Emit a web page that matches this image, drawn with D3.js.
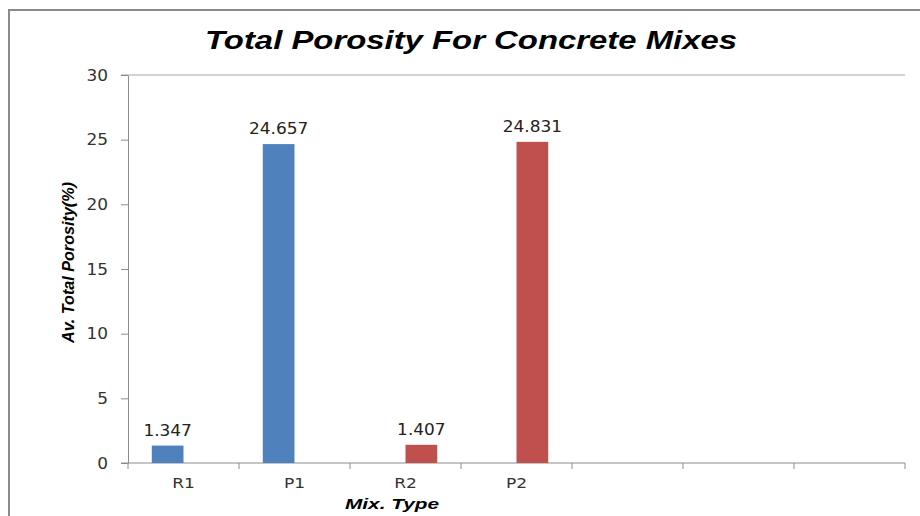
<!DOCTYPE html>
<html>
<head>
<meta charset="utf-8">
<script src="https://cdn.jsdelivr.net/npm/d3@7/dist/d3.min.js"></script>
<style>
  html, body { margin: 0; padding: 0; background: #fff; }
  svg { display: block; }
</style>
</head>
<body>
<svg id="chart" width="920" height="516"></svg>
<script>
// Mix types along the x axis (the last three slots are unused)
const categories = ["R1", "P1", "R2", "P2", "", "", ""];
// Average total porosity (%) per series; null = no bar in that slot
const seriesReference = [1.347, 24.657, null, null, null, null, null];
const seriesPorous    = [null, null, 1.407, 24.831, null, null, null];
const yTicks = [0, 5, 10, 15, 20, 25, 30];

const series = [
  { values: seriesReference, color: "#4F81BD" },
  { values: seriesPorous,    color: "#C0504D" }
];

const svg = d3.select("#chart");
const plot = { left: 128, right: 905, top: 75, bottom: 463 };

const numFont = "DejaVu Sans, Verdana, sans-serif";
const titleFont = "Liberation Sans, Arial, sans-serif";
const numScale = 1.13;

// chart frame (only top and left edges fall inside the view)
svg.append("path")
  .attr("d", "M9,516 V10 H920")
  .attr("fill", "none")
  .attr("stroke", "#8a8a8a")
  .attr("stroke-width", 2);

// title
svg.append("text")
  .attr("x", 471).attr("y", 48.5)
  .attr("text-anchor", "middle")
  .attr("font-family", titleFont)
  .attr("font-weight", "bold")
  .attr("font-style", "italic")
  .attr("font-size", 26)
  .attr("textLength", 532)
  .attr("lengthAdjust", "spacingAndGlyphs")
  .attr("fill", "#000")
  .text("Total Porosity For Concrete Mixes");

const x = d3.scaleBand()
  .domain(d3.range(categories.length))
  .range([plot.left, plot.right])
  .paddingInner(0).paddingOuter(0);

const y = d3.scaleLinear()
  .domain([0, 30])
  .range([plot.bottom, plot.top]);

// clustered bars: gap width 150% of a bar
const barW = x.bandwidth() / (series.length + 1.5);

// top gridline
svg.append("line")
  .attr("x1", plot.left - 7).attr("x2", plot.right)
  .attr("y1", y(30)).attr("y2", y(30))
  .attr("stroke", "#c4c4c4").attr("stroke-width", 1.5);

// y axis
const yAxis = svg.append("g")
  .attr("transform", `translate(${plot.left},0)`)
  .call(d3.axisLeft(y).tickValues(yTicks).tickSize(7).tickSizeOuter(0).tickPadding(13));
yAxis.select(".domain").attr("stroke", "#8c8c8c");
yAxis.selectAll(".tick line").attr("stroke", "#8c8c8c");
yAxis.selectAll(".tick text")
  .attr("font-family", numFont)
  .attr("font-size", 15)
  .attr("fill", "#333")
  .attr("dy", null)
  .attr("dominant-baseline", "central")
  .attr("transform", function () {
    const tx = +d3.select(this).attr("x");
    d3.select(this).attr("x", 0);
    return `translate(${tx},0) scale(${numScale},1)`;
  });

// x axis with ticks on category boundaries
const xAxisG = svg.append("g").attr("transform", `translate(0,${plot.bottom})`);
xAxisG.append("line")
  .attr("x1", plot.left - 7).attr("x2", plot.right)
  .attr("y1", 0).attr("y2", 0)
  .attr("stroke", "#8c8c8c");
const boundaries = d3.range(categories.length + 1).map(i =>
  i < categories.length ? x(i) : x(categories.length - 1) + x.bandwidth());
xAxisG.selectAll("line.tick")
  .data(boundaries)
  .join("line")
  .attr("class", "tick")
  .attr("x1", d => d).attr("x2", d => d)
  .attr("y1", 0).attr("y2", 6)
  .attr("stroke", "#8c8c8c");
xAxisG.selectAll("text.cat")
  .data(categories)
  .join("text")
  .attr("class", "cat")
  .attr("text-anchor", "middle")
  .attr("font-family", numFont)
  .attr("font-size", 14)
  .attr("fill", "#333")
  .attr("transform", (d, i) => `translate(${x(i) + x.bandwidth() / 2},24.5) scale(1.22,1)`)
  .text(d => d);

// bars and value labels
series.forEach((s, si) => {
  const pts = s.values
    .map((v, i) => ({ v, i }))
    .filter(d => d.v != null);
  const bx = d => x(d.i) + x.bandwidth() / 2 - barW * series.length / 2 + si * barW;

  svg.append("g").selectAll("rect")
    .data(pts)
    .join("rect")
    .attr("x", bx)
    .attr("y", d => y(d.v))
    .attr("width", barW)
    .attr("height", d => y(0) - y(d.v))
    .attr("fill", s.color);

  svg.append("g").selectAll("text")
    .data(pts)
    .join("text")
    .attr("text-anchor", "middle")
    .attr("font-family", numFont)
    .attr("font-size", 15)
    .attr("fill", "#222")
    .attr("transform", d => `translate(${bx(d) + barW / 2},${y(d.v) - 10}) scale(${numScale},1)`)
    .text(d => d3.format(".3f")(d.v));
});

// axis titles
svg.append("text")
  .attr("x", 392).attr("y", 508.5)
  .attr("text-anchor", "middle")
  .attr("font-family", titleFont)
  .attr("font-weight", "bold")
  .attr("font-style", "italic")
  .attr("font-size", 14)
  .attr("textLength", 94)
  .attr("lengthAdjust", "spacingAndGlyphs")
  .attr("fill", "#000")
  .text("Mix. Type");

svg.append("text")
  .attr("transform", "translate(73.5,262.5) rotate(-90)")
  .attr("text-anchor", "middle")
  .attr("font-family", titleFont)
  .attr("font-weight", "bold")
  .attr("font-style", "italic")
  .attr("font-size", 17)
  .attr("textLength", 161)
  .attr("lengthAdjust", "spacingAndGlyphs")
  .attr("fill", "#000")
  .text("Av. Total Porosity(%)");
</script>
</body>
</html>
